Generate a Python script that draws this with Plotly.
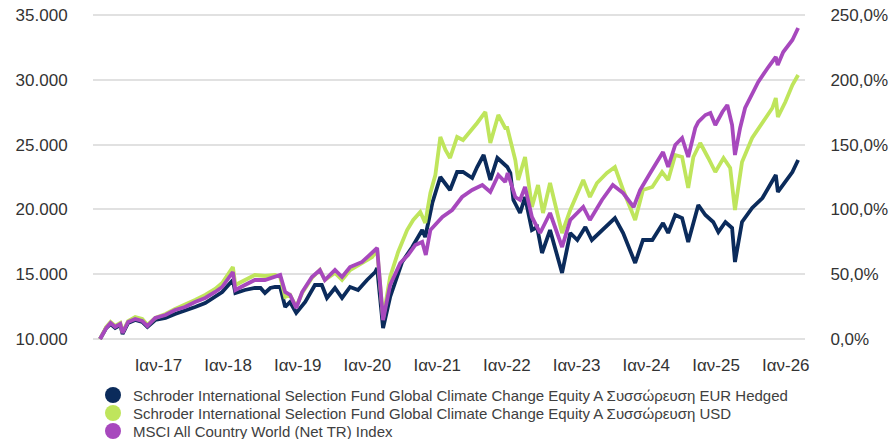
import plotly.graph_objects as go

# ---------------- data (index start = 10.000) ----------------
navy_dates = ["2016-03-01","2016-04-02","2016-04-25","2016-05-19","2016-06-15","2016-06-27","2016-07-26","2016-09-01",
              "2016-10-08","2016-11-04","2016-12-15","2017-02-07","2017-03-29","2017-05-20","2017-07-12","2017-09-03",
              "2017-10-25","2017-12-01","2018-01-26","2018-02-08","2018-03-30","2018-05-21","2018-06-20","2018-07-13",
              "2018-08-10","2018-09-04","2018-10-01","2018-10-15","2018-10-27","2018-11-22","2018-12-24","2019-02-09",
              "2019-04-01","2019-05-07","2019-06-03","2019-07-15","2019-08-21","2019-10-02","2019-11-13","2019-12-30",
              "2020-02-11","2020-02-21","2020-03-23","2020-04-29","2020-07-01","2020-08-23","2020-10-14","2020-10-30",
              "2020-12-06","2021-01-17","2021-02-23","2021-03-09","2021-04-15","2021-05-16","2021-07-03","2021-07-29",
              "2021-09-01","2021-10-06","2021-11-12","2022-01-03","2022-01-19","2022-02-04","2022-03-11","2022-04-06",
              "2022-05-12","2022-06-08","2022-07-04","2022-08-15","2022-10-17","2022-11-29","2023-01-05","2023-02-16",
              "2023-03-22","2023-05-19","2023-07-21","2023-09-02","2023-11-04","2023-12-15","2024-02-02","2024-03-29",
              "2024-04-25","2024-06-01","2024-07-07","2024-08-08","2024-09-04","2024-09-30","2024-11-06","2024-12-17",
              "2025-01-13","2025-02-19","2025-03-26","2025-04-10","2025-05-17","2025-07-09","2025-09-01","2025-10-23",
              "2025-11-10","2025-11-21","2025-12-30","2026-02-05","2026-03-07"]
navy_values = [10000,10849,11157,10849,11080,10386,11235,11466,
               11312,10926,11466,11620,11929,12161,12469,12778,
               13241,13627,14552,13549,13781,13935,13935,13549,
               13935,14012,14012,13241,12469,12855,12006,12855,
               14166,14166,13164,13935,13164,14012,13781,14552,
               15170,15478,10849,13241,15942,17099,18410,17870,
               20494,22500,21728,21497,22886,22886,22423,23272,
               24197,22268,23966,23272,22809,20725,19722,20957,
               18410,18642,16636,18410,15093,18179,17639,18642,
               17639,18410,19336,18179,15864,17639,17639,18951,
               18179,19568,19336,17485,19028,20339,19568,19028,
               18256,19028,18565,15942,19028,20108,20880,22114,
               22654,21343,22114,22886,23812]

green_dates = ["2016-03-01","2016-04-02","2016-04-25","2016-05-19","2016-06-15","2016-06-27","2016-07-26","2016-09-01",
               "2016-10-08","2016-11-04","2016-12-15","2017-02-07","2017-03-29","2017-05-20","2017-07-12","2017-09-03",
               "2017-10-25","2017-12-01","2018-01-26","2018-02-08","2018-03-30","2018-05-21","2018-07-13","2018-09-04",
               "2018-10-01","2018-10-27","2018-11-22","2018-12-24","2019-01-24","2019-03-16","2019-04-27","2019-05-23",
               "2019-07-15","2019-08-21","2019-10-02","2019-12-04","2020-01-26","2020-02-21","2020-03-23","2020-04-29",
               "2020-06-10","2020-07-27","2020-08-28","2020-10-04","2020-10-30","2020-11-26","2020-12-22","2021-01-17",
               "2021-02-13","2021-03-09","2021-04-15","2021-05-16","2021-06-22","2021-07-29","2021-09-10","2021-10-06",
               "2021-11-17","2021-12-23","2022-01-03","2022-01-29","2022-02-14","2022-03-01","2022-04-06","2022-05-12",
               "2022-06-13","2022-07-09","2022-08-15","2022-10-17","2022-11-29","2023-02-05","2023-03-12","2023-04-18",
               "2023-06-09","2023-07-21","2023-09-02","2023-11-04","2023-12-15","2024-02-02","2024-03-24","2024-04-25",
               "2024-06-01","2024-07-07","2024-08-08","2024-09-04","2024-10-10","2024-11-21","2024-12-28","2025-02-09",
               "2025-03-16","2025-04-10","2025-05-17","2025-07-09","2025-09-01","2025-10-23","2025-11-10","2025-11-21",
               "2025-12-30","2026-02-05","2026-03-07"]
green_values = [10000,10926,11312,11003,11235,10540,11389,11698,
                11543,11080,11620,11929,12315,12623,13009,13395,
                13858,14321,15556,14166,14552,14938,14861,14938,
                14784,13241,13395,12469,13549,14707,15324,14552,
                15093,14552,15324,15864,16327,16867,11620,14784,
                16713,18410,19182,19799,18951,21265,22654,25587,
                24583,23966,25587,25355,25973,26667,27516,25124,
                27284,26281,26281,24815,23812,22268,24043,20185,
                21883,19722,22037,18179,19954,22268,20957,22037,
                22809,23272,21497,19182,21497,21728,22886,22268,
                24197,24043,21651,24043,25124,23966,22886,23966,
                23194,19954,23658,25510,26744,27824,28596,27130,
                28287,29599,30370]

msci_dates = ["2016-03-01","2016-04-02","2016-04-25","2016-05-19","2016-06-15","2016-06-27","2016-07-26","2016-09-01",
              "2016-10-08","2016-11-04","2016-12-15","2017-02-07","2017-03-29","2017-05-20","2017-07-12","2017-09-03",
              "2017-10-25","2017-12-01","2018-01-26","2018-02-08","2018-03-30","2018-05-21","2018-07-13","2018-09-04",
              "2018-10-01","2018-10-27","2018-11-22","2018-12-24","2019-01-24","2019-03-16","2019-04-27","2019-05-23",
              "2019-07-15","2019-08-21","2019-10-02","2019-12-04","2020-01-26","2020-02-21","2020-03-23","2020-04-29",
              "2020-06-21","2020-08-01","2020-09-08","2020-10-14","2020-11-02","2020-11-26","2021-01-28","2021-03-20",
              "2021-05-11","2021-07-03","2021-08-25","2021-10-06","2021-11-17","2021-12-23","2022-01-05","2022-01-29",
              "2022-02-14","2022-03-11","2022-04-06","2022-05-12","2022-06-24","2022-08-15","2022-10-17","2022-11-29",
              "2023-02-05","2023-03-12","2023-05-14","2023-07-10","2023-09-02","2023-10-27","2023-11-30","2024-01-22",
              "2024-03-29","2024-04-25","2024-06-01","2024-07-07","2024-08-08","2024-09-14","2024-09-30","2024-11-06",
              "2024-12-02","2024-12-28","2025-02-03","2025-03-01","2025-03-26","2025-04-10","2025-05-07","2025-06-02",
              "2025-07-09","2025-08-10","2025-10-02","2025-11-10","2025-11-20","2025-12-19","2026-02-05","2026-03-07"]
msci_values = [10000,10849,11235,10926,11157,10463,11312,11543,
               11389,11003,11620,11852,12238,12469,12855,13164,
               13627,14012,15170,13781,14166,14552,14552,14784,
               14938,13627,13395,12392,13627,14784,15324,14552,
               15324,14784,15556,15942,16713,17022,11466,14166,
               15864,16481,17253,17485,16481,18410,19414,19954,
               20957,21497,21883,21343,22654,22114,22809,21728,
               20957,20725,21728,19414,18179,19722,17099,19182,
               20185,19182,20725,21883,21265,20185,21497,22809,
               24429,23272,24969,25510,24043,26281,26744,27284,
               27438,26513,27516,28056,26513,24197,26281,27824,
               28827,29830,30988,31759,31142,32145,33071,33997]

series_names = [
    "Schroder International Selection Fund Global Climate Change Equity A Συσσώρευση EUR Hedged",
    "Schroder International Selection Fund Global Climate Change Equity A Συσσώρευση USD",
    "MSCI All Country World (Net TR) Index",
]
series_colors = ["#0b2b5b", "#bfe55c", "#a748bd"]

x_tick_dates = ["2017-01-01","2018-01-01","2019-01-01","2020-01-01","2021-01-01",
                "2022-01-01","2023-01-01","2024-01-01","2025-01-01","2026-01-01"]
x_tick_labels = ["Ιαν-17","Ιαν-18","Ιαν-19","Ιαν-20","Ιαν-21","Ιαν-22","Ιαν-23","Ιαν-24","Ιαν-25","Ιαν-26"]
left_ticks = [10000, 15000, 20000, 25000, 30000, 35000]
left_labels = ["10.000", "15.000", "20.000", "25.000", "30.000", "35.000"]
right_ticks = [0, 50, 100, 150, 200, 250]
right_labels = ["0,0%", "50,0%", "100,0%", "150,0%", "200,0%", "250,0%"]

# ---------------- figure ----------------
FONT = "Liberation Sans, Arial, sans-serif"
W, H = 895, 439
TOP_GRID_PX, BOTTOM_GRID_PX = 15, 339      # where 35.000 and 10.000 sit in the picture
PAD_PX = 2                                   # keep edge gridlines just inside the plot area
units_per_px = (left_ticks[-1] - left_ticks[0]) / (BOTTOM_GRID_PX - TOP_GRID_PX)
pad = PAD_PX * units_per_px
left_range = [left_ticks[0] - pad, left_ticks[-1] + pad]
right_range = [(v - left_ticks[0]) / 100 for v in left_range]
m_top = TOP_GRID_PX - PAD_PX
m_bottom = H - (BOTTOM_GRID_PX + PAD_PX)
plot_h = H - m_top - m_bottom
plot_bottom_px = H - m_bottom

fig = go.Figure()

all_series = [(navy_dates, navy_values), (green_dates, green_values), (msci_dates, msci_values)]
for (d, v), name, col in zip(all_series, series_names, series_colors):
    fig.add_trace(go.Scatter(x=d, y=v, mode="lines", name=name, showlegend=False,
                             line=dict(color=col, width=3.8)))

# legend entries drawn as round dots, one legend per row so the row spacing can match
legend_ids = ["legend", "legend2", "legend3"]
for name, col, lg in zip(series_names, series_colors, legend_ids):
    fig.add_trace(go.Scatter(x=[None], y=[None], mode="markers", name=name, legend=lg,
                             marker=dict(color=col, size=16, symbol="circle")))

# helper trace so the right axis is rendered
fig.add_trace(go.Scatter(x=[msci_dates[0]], y=[right_ticks[0]], yaxis="y2", mode="markers",
                         marker=dict(opacity=0), showlegend=False, hoverinfo="skip"))

legend_common = dict(x=0.0, xanchor="left", yanchor="top",
                     font=dict(family=FONT, size=15, color="#404040"),
                     bgcolor="rgba(0,0,0,0)", itemsizing="trace")
row_centres = [395, 413, 431]
row_tops = [-(c - 16.25 - plot_bottom_px) / plot_h for c in row_centres]

fig.update_layout(
    template="none",
    width=W, height=H,
    margin=dict(l=93, r=90, t=m_top, b=m_bottom, autoexpand=False),
    paper_bgcolor="white", plot_bgcolor="white",
    font=dict(family=FONT, color="#333333"),
    xaxis=dict(type="date", range=["2016-01-24", "2026-04-12"], automargin=False,
               tickvals=x_tick_dates, ticktext=x_tick_labels,
               tickfont=dict(size=17, color="#333333"),
               showgrid=False, zeroline=False, showline=False,
               ticks="outside", ticklen=7 + PAD_PX, tickcolor="rgba(0,0,0,0)"),
    yaxis=dict(range=left_range, tickvals=left_ticks, ticktext=left_labels, automargin=False,
               tickfont=dict(size=17, color="#333333"),
               showgrid=True, gridcolor="#e1e1e1", gridwidth=2, zeroline=False,
               ticks="outside", ticklen=21, tickcolor="rgba(0,0,0,0)"),
    yaxis2=dict(range=right_range, tickvals=right_ticks, ticktext=right_labels, automargin=False,
                overlaying="y", side="right", anchor="x",
                tickfont=dict(size=17, color="#333333"),
                showgrid=False, zeroline=False,
                ticks="outside", ticklen=21, tickcolor="rgba(0,0,0,0)"),
    legend=dict(legend_common, y=row_tops[0]),
    legend2=dict(legend_common, y=row_tops[1]),
    legend3=dict(legend_common, y=row_tops[2]),
    hovermode=False,
)

fig.write_html("out.html", config={"displayModeBar": False},
               post_script="document.body.style.margin='0';")
